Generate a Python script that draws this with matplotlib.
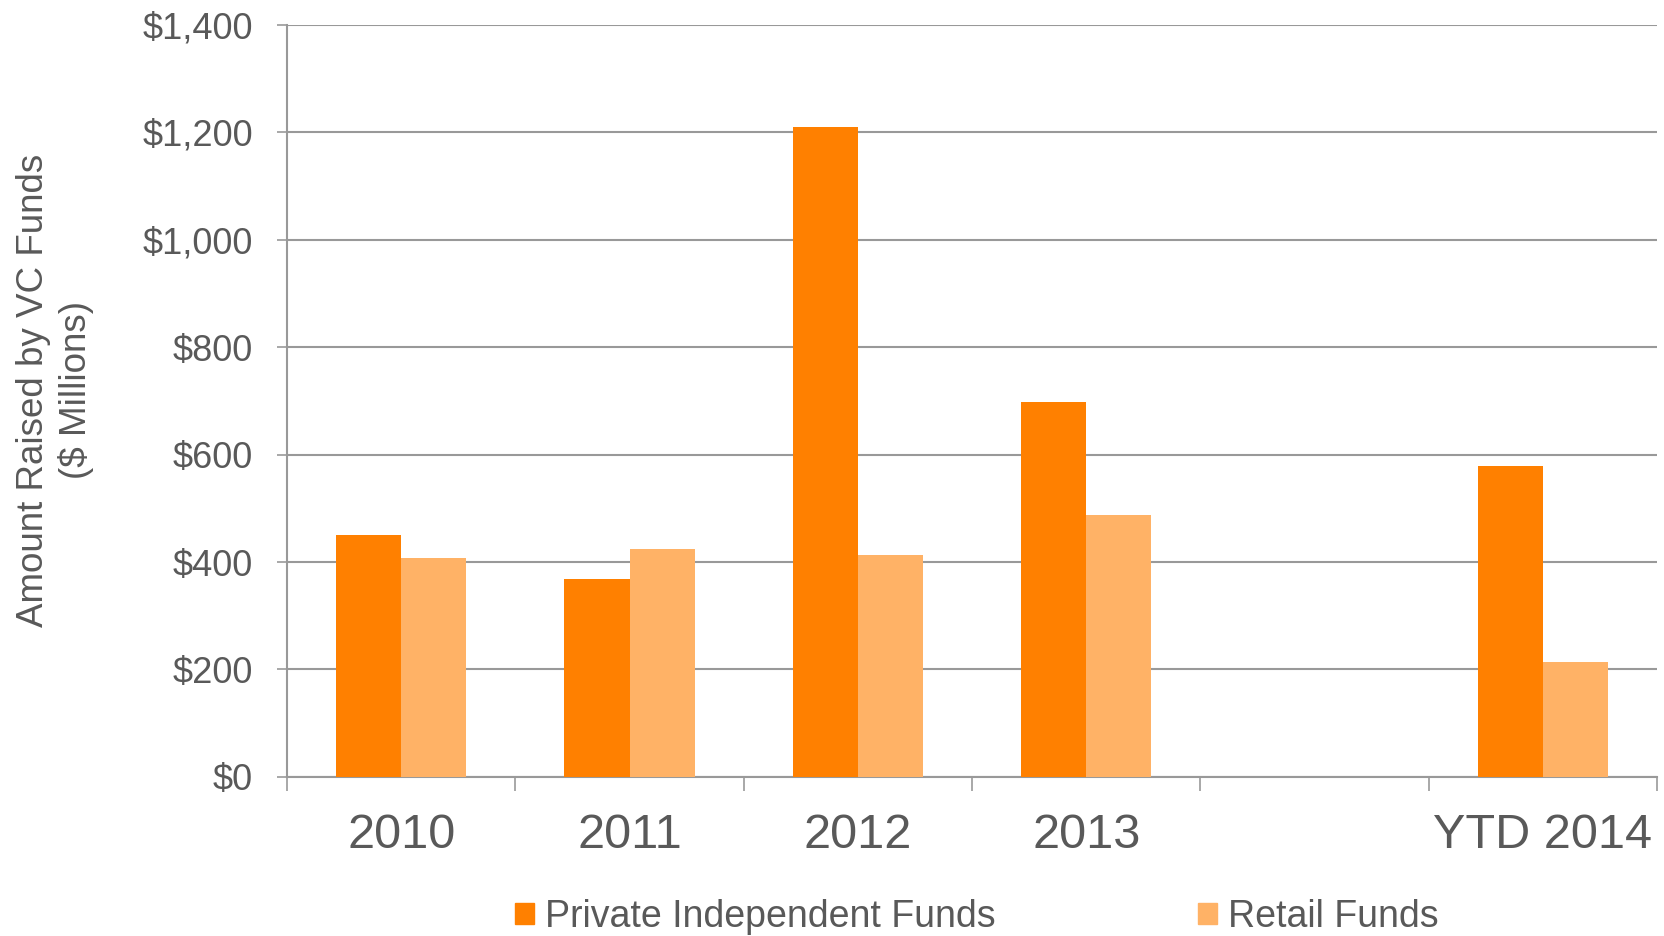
import numpy as np
import matplotlib.pyplot as plt
from matplotlib.patches import Patch
from matplotlib.ticker import FuncFormatter

plt.rcParams['font.family'] = ['Liberation Sans', 'DejaVu Sans']

# 募资数据（百万美元），第五个位置留空
categories = ['2010', '2011', '2012', '2013', '', 'YTD 2014']
private_funds = [450, 368, 1210, 698, np.nan, 578]
retail_funds = [407, 425, 414, 488, np.nan, 214]

orange = '#FF8000'
light_orange = '#FFB266'
grid_gray = '#999999'
text_gray = '#595959'

fig = plt.figure(figsize=(16.64, 9.36), dpi=100)
ax = fig.add_axes([0.1725, 0.17, 0.8233, 0.8033])

x = np.arange(len(categories))
width = 0.285
ax.bar(x - width / 2, private_funds, width, color=orange, linewidth=0, zorder=3)
ax.bar(x + width / 2, retail_funds, width, color=light_orange, linewidth=0, zorder=3)

ax.set_xlim(-0.5, len(categories) - 0.5)
ax.set_ylim(0, 1400)
ax.set_yticks(np.arange(0, 1401, 200))
ax.yaxis.set_major_formatter(FuncFormatter(lambda v, p: f'${v:,.0f}'))
ax.grid(axis='y', color=grid_gray, linewidth=1.5, zorder=0)

# 分组边界画刻度，标签放在组中心
ax.set_xticks(np.arange(len(categories) + 1) - 0.5)
ax.set_xticklabels([])
ax.set_xticks(x, minor=True)
ax.set_xticklabels(categories, minor=True)
ax.tick_params(axis='x', which='major', length=10, width=1.2, color=grid_gray)
ax.tick_params(axis='x', which='minor', length=0, pad=26, labelsize=35, labelcolor=text_gray)
ax.tick_params(axis='y', length=7.5, width=1.2, color=grid_gray, pad=17,
               labelsize=26, labelcolor=text_gray)

for side in ['top', 'right']:
    ax.spines[side].set_visible(False)
for side in ['left', 'bottom']:
    ax.spines[side].set_color(grid_gray)
    ax.spines[side].set_linewidth(1.5)

fig.text(0.033, 1 - 390 / 936, 'Amount Raised by VC Funds\n($ Millions)', rotation=90,
         ha='center', va='center', fontsize=26.5, color=text_gray, linespacing=1.25)

handles = [Patch(color=orange, label='Private Independent Funds'),
           Patch(color=light_orange, label='Retail Funds')]
fig.legend(handles=handles, loc='center', bbox_to_anchor=(977 / 1664, 1 - 917 / 936),
           ncol=2, frameon=False, fontsize=27, labelcolor=text_gray,
           handlelength=0.5, handleheight=0.5, handletextpad=0.3, columnspacing=5.4)

fig.savefig('out.png', dpi=100)
